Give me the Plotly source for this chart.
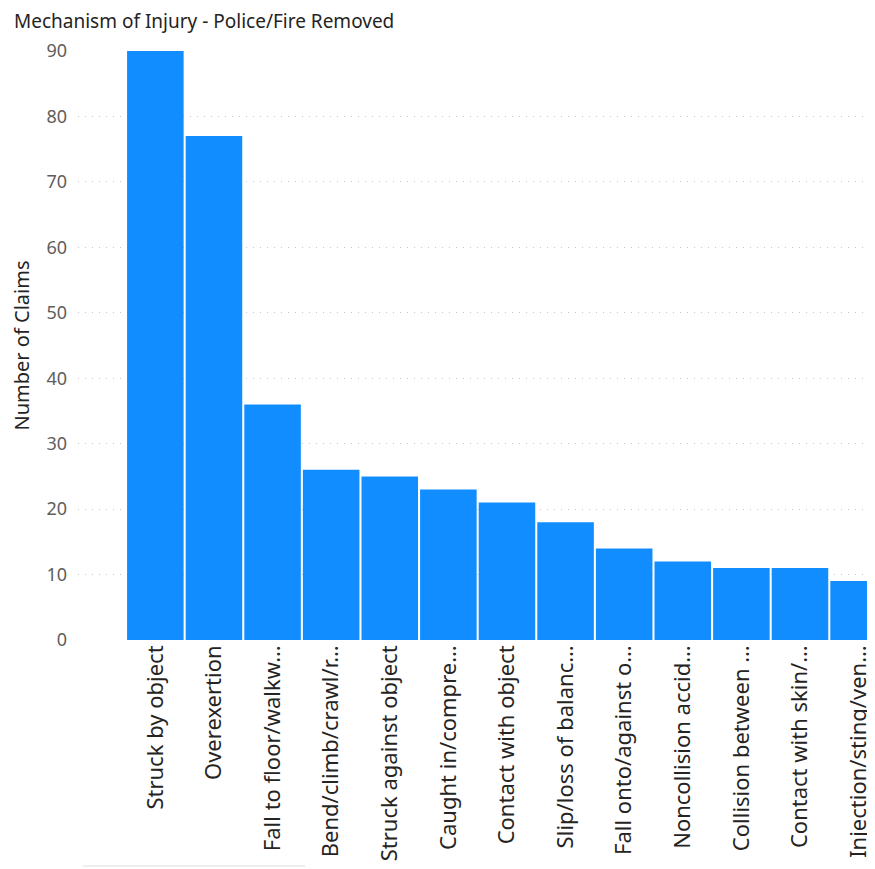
import plotly.graph_objects as go

categories = [
    "Struck by object", "Overexertion", "Fall to floor/walkw…", "Bend/climb/crawl/r…",
    "Struck against object", "Caught in/compre…", "Contact with object",
    "Slip/loss of balanc…", "Fall onto/against o…", "Noncollision accid…",
    "Collision between …", "Contact with skin/…", "Injection/sting/ven…",
]
claims = [90, 77, 36, 26, 25, 23, 21, 18, 14, 12, 11, 11, 9]
y_ticks = [0, 10, 20, 30, 40, 50, 60, 70, 80, 90]

fig = go.Figure(go.Bar(
    x=categories, y=claims,
    marker=dict(color="#118DFF", line=dict(width=0)),
    hovertemplate="%{x}: %{y}<extra></extra>",
))

fig.update_layout(
    width=867, height=861,
    margin=dict(l=70, r=0, t=43, b=229),
    paper_bgcolor="white", plot_bgcolor="white",
    font=dict(family="Noto Sans, Open Sans, sans-serif", color="#605E5C"),
    bargap=0.035,
    showlegend=False,
    annotations=[dict(
        text="Mechanism of Injury - Police/Fire Removed",
        xref="paper", yref="paper", x=-66/797, y=1 + 30/589,
        xanchor="left", yanchor="middle", showarrow=False,
        font=dict(size=19, color="#252423", family="Noto Sans, Open Sans, sans-serif"),
    )],
    shapes=[dict(
        type="line", xref="paper", yref="paper",
        x0=5/797, x1=227/797, y0=-226/589, y1=-226/589,
        line=dict(color="#E8E8E8", width=1.5),
    )],
)
fig.update_xaxes(
    range=[-1.32, 12.28], tickangle=-90, showgrid=False, showline=False,
    tickfont=dict(size=22, color="#252423"), ticks="", automargin=False,
)
fig.update_yaxes(
    range=[0, 90], tickvals=y_ticks, showline=False, zeroline=False,
    showgrid=True, gridcolor="#C8C6C4", griddash="1px,6px", gridwidth=1,
    tickfont=dict(size=18, color="#605E5C"), ticklabelstandoff=10,
    title=dict(text="Number of Claims", font=dict(size=20, color="#252423"), standoff=14),
    automargin=False,
)

fig.write_html("out.html")
